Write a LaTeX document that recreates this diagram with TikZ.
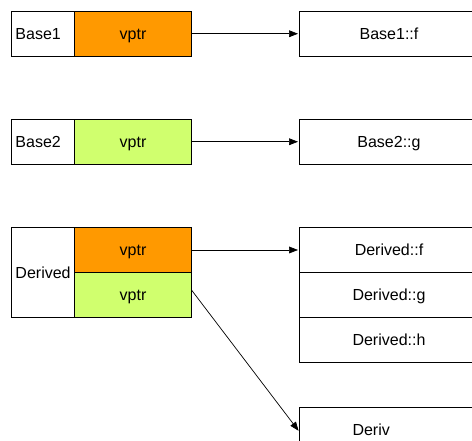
\documentclass[tikz,border=0pt]{standalone}
\usepackage{fontspec}
\setmainfont{Liberation Sans}
\usetikzlibrary{arrows.meta,positioning}
\definecolor{vorange}{RGB}{255,153,0}
\definecolor{vgreen}{RGB}{208,255,110}
\tikzset{
  cell/.style={draw=black,fill=white,line width=0.8pt,outer sep=0pt,inner sep=0pt,
               align=center,font=\fontsize{16}{18}\selectfont,minimum height=44.5pt,
               text height=12pt,text depth=0pt},
  namebox/.style={cell,minimum width=63pt,text width=55pt,align=left},
  ptrbox/.style={cell,minimum width=117pt},
  ptro/.style={ptrbox,fill=vorange},
  ptrg/.style={ptrbox,fill=vgreen},
  fnbox/.style={cell,anchor=north west,minimum width=179pt,minimum height=45pt},
  flow/.style={-{Triangle[length=9pt,width=6.8pt]},line width=0.7pt,draw=black,shorten >=1.5pt},
}
\begin{document}
\begin{tikzpicture}[x=1pt,y=1pt,node distance=63.5pt]
  \useasboundingbox (0,0) rectangle (472,441);

  \node[namebox] at (43,407.25) (base1) {Base1};
  \node[ptro,right=0pt of base1] (vp1) {vptr};
  \node[namebox,below=of base1] (base2) {Base2};
  \node[ptrg,right=0pt of base2] (vp2) {vptr};
  \node[namebox,below=of base2,minimum height=90pt] (derived) {Derived};
  \node[ptro,anchor=north west,minimum height=45pt] at (derived.north east) (dvp1) {vptr};
  \node[ptrg,anchor=north west,minimum height=45pt] at (dvp1.south west) (dvp2) {vptr};

  \node[fnbox,minimum height=44.5pt] at (299.5,429.5) (f1) {Base1::f};
  \node[fnbox,minimum height=44.5pt,below=of f1.south west,anchor=north west] (g2) {Base2::g};
  \node[fnbox,below=of g2.south west,anchor=north west] (df) {Derived::f};
  \node[fnbox,below=0pt of df.south west,anchor=north west] (dg) {Derived::g};
  \node[fnbox,below=0pt of dg.south west,anchor=north west] (dh) {Derived::h};
  \node[fnbox,below=45pt of dh.south west,anchor=north west] (dlast) {Deriv\phantom{ed::g}};

  \draw[flow] (vp1) -- (f1);
  \draw[flow] (vp2) -- (g2);
  \draw[flow] (dvp1) -- (df);
  \draw[flow] ([yshift=5pt]dvp2.east) -- ([yshift=-2pt]dlast.west);
\end{tikzpicture}
\end{document}
